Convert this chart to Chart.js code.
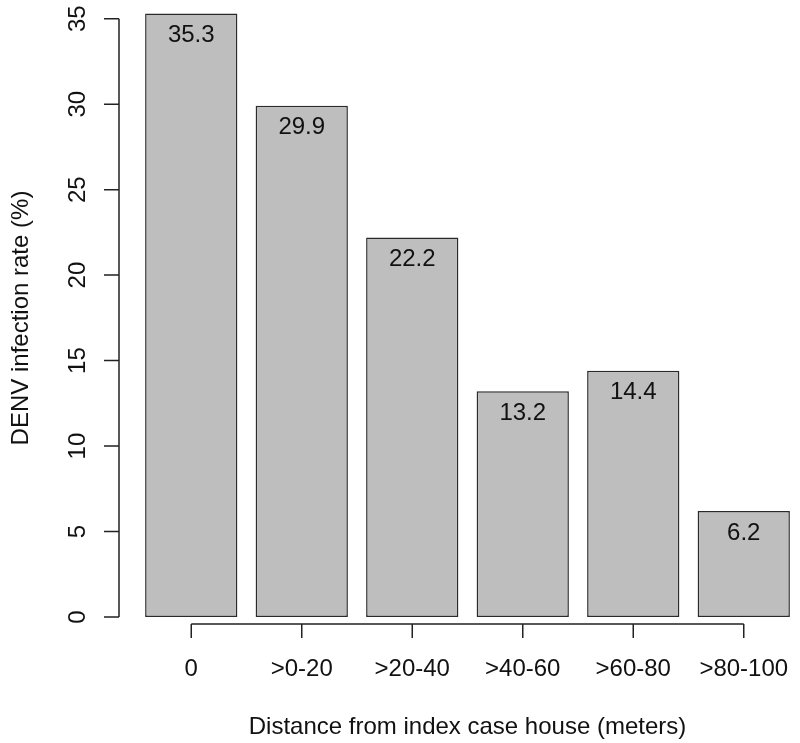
<!DOCTYPE html>
<html>
<head>
<meta charset="utf-8">
<script src="https://cdn.jsdelivr.net/npm/chart.js@4"></script>
<style>
  html, body { margin: 0; padding: 0; background: #fff; }
  #wrap { width: 800px; height: 743px; }
</style>
</head>
<body>
<div id="wrap"><canvas id="chart"></canvas></div>
<script>
// Data
const distanceLabels = ['0', '>0-20', '>20-40', '>40-60', '>60-80', '>80-100'];
const infectionRates = [35.3, 29.9, 22.2, 13.2, 14.4, 6.2];
const yTickValues = [0, 5, 10, 15, 20, 25, 30, 35];

const FONT = '"Liberation Sans", Arial, sans-serif';
const AXIS_COLOR = '#222';

// draws R-style detached axes, value labels and titles from the chart scales
const rAxesPlugin = {
    id: 'rAxes',
    afterDatasetsDraw(chart) {
        const ctx = chart.ctx;
        const xs = chart.scales.x;
        const ys = chart.scales.y;
        ctx.save();
        ctx.strokeStyle = AXIS_COLOR;
        ctx.fillStyle = '#111';
        ctx.lineWidth = 1.5;
        ctx.font = '24px ' + FONT;

        // y axis
        const axisX = 119;
        ctx.beginPath();
        ctx.moveTo(axisX, ys.getPixelForValue(yTickValues[0]));
        ctx.lineTo(axisX, ys.getPixelForValue(yTickValues[yTickValues.length - 1]));
        yTickValues.forEach(v => {
            const py = ys.getPixelForValue(v);
            ctx.moveTo(axisX, py);
            ctx.lineTo(axisX - 15, py);
        });
        ctx.stroke();
        ctx.textAlign = 'center';
        ctx.textBaseline = 'middle';
        yTickValues.forEach(v => {
            const py = ys.getPixelForValue(v);
            ctx.save();
            ctx.translate(77, py);
            ctx.rotate(-Math.PI / 2);
            ctx.fillText(String(v), 0, 1);
            ctx.restore();
        });

        // x axis
        const axisY = 624;
        const first = xs.getPixelForValue(0);
        const last = xs.getPixelForValue(distanceLabels.length - 1);
        ctx.beginPath();
        ctx.moveTo(first, axisY);
        ctx.lineTo(last, axisY);
        distanceLabels.forEach((lab, i) => {
            const px = xs.getPixelForValue(i);
            ctx.moveTo(px, axisY);
            ctx.lineTo(px, axisY + 14);
        });
        ctx.stroke();
        distanceLabels.forEach((lab, i) => {
            ctx.fillText(lab, xs.getPixelForValue(i), 669);
        });

        // value labels inside bars
        const meta = chart.getDatasetMeta(0);
        meta.data.forEach((bar, i) => {
            ctx.fillText(infectionRates[i].toFixed(1), bar.x, bar.y + 22);
        });

        // axis titles
        const barLeft = meta.data[0].x - meta.data[0].width / 2;
        const barRight = meta.data[meta.data.length - 1].x + meta.data[meta.data.length - 1].width / 2;
        ctx.fillText('Distance from index case house (meters)', (barLeft + barRight) / 2, 727);
        ctx.save();
        ctx.translate(21, 318);
        ctx.rotate(-Math.PI / 2);
        ctx.fillText('DENV infection rate (%)', 0, 0);
        ctx.restore();

        ctx.restore();
    }
};

const ctx = document.getElementById('chart').getContext('2d');
new Chart(ctx, {
    type: 'bar',
    data: {
        labels: distanceLabels,
        datasets: [{
            data: infectionRates,
            backgroundColor: '#bebebe',
            borderColor: '#2a2a2a',
            borderWidth: 1.5,
            borderSkipped: false,
            categoryPercentage: 1,
            barPercentage: 0.835
        }]
    },
    options: {
        responsive: true,
        maintainAspectRatio: false,
        animation: false,
        layout: { padding: { left: 136, right: 1, top: 5, bottom: 126 } },
        plugins: {
            legend: { display: false },
            tooltip: { enabled: false }
        },
        scales: {
            x: { display: false, offset: true },
            y: { display: false, min: 0, max: 35.8 }
        }
    },
    plugins: [rAxesPlugin]
});
</script>
</body>
</html>
